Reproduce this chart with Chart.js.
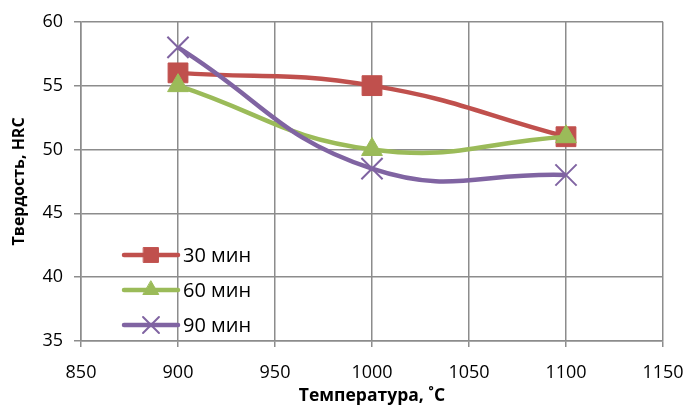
<!DOCTYPE html>
<html>
<head>
<meta charset="utf-8">
<script src="https://cdn.jsdelivr.net/npm/chart.js@4"></script>
<style>
  html, body { margin: 0; padding: 0; background: #fff; }
  #wrap { width: 688px; height: 408px; }
</style>
</head>
<body>
<div id="wrap"><canvas id="hardnessChart" width="688" height="408"></canvas></div>
<script>
// температура отпуска, °C
const temps = [900, 1000, 1100];
const seriesNames = ['30 мин', '60 мин', '90 мин'];
const hrc30 = [56, 55, 51];
const hrc60 = [55, 50, 51];
const hrc90 = [58, 48.5, 48];
const xTicks = [850, 900, 950, 1000, 1050, 1100, 1150];
const yTicks = [35, 40, 45, 50, 55, 60];

const FONT = '"Open Sans", "Noto Sans", sans-serif';

function toPoints(values) {
    return temps.map((t, i) => ({ x: t, y: values[i] }));
}

// легенда внутри области графика, как в Excel
const insideLegend = {
    id: 'insideLegend',
    afterDatasetsDraw(chart) {
        const ctx = chart.ctx;
        const x0 = 124, x1 = 178, rowY = [255, 290, 325];
        chart.data.datasets.forEach((ds, i) => {
            const y = rowY[i];
            ctx.save();
            ctx.strokeStyle = ds.borderColor;
            ctx.lineWidth = ds.borderWidth;
            ctx.lineCap = 'round';
            ctx.beginPath();
            ctx.moveTo(x0, y);
            ctx.lineTo(x1, y);
            ctx.stroke();
            ctx.fillStyle = ds.pointBackgroundColor;
            ctx.strokeStyle = ds.pointBorderColor;
            ctx.lineWidth = ds.pointBorderWidth;
            Chart.helpers.drawPoint(ctx, {
                pointStyle: ds.pointStyle,
                radius: ds.pointRadius * 0.75,
                borderWidth: ds.pointBorderWidth
            }, (x0 + x1) / 2, y);
            ctx.fillStyle = '#000';
            ctx.font = '20px ' + FONT;
            ctx.textBaseline = 'middle';
            ctx.fillText(ds.label, 183, y + 1);
            ctx.restore();
        });
    }
};

function makeSet(label, values, color, style, radius, order) {
    return {
        label: label,
        data: toPoints(values),
        showLine: true,
        order: order, // later series on top, as in Excel
        borderColor: color,
        backgroundColor: color,
        borderWidth: 4.5,
        pointStyle: style,
        pointRadius: radius,
        pointHoverRadius: radius,
        pointBackgroundColor: color,
        pointBorderColor: color,
        pointBorderWidth: style === 'crossRot' ? 2 : 1,
        tension: 0.45
    };
}

const ctx = document.getElementById('hardnessChart').getContext('2d');
const chart = new Chart(ctx, {
    type: 'scatter',
    data: {
        datasets: [
            makeSet(seriesNames[0], hrc30, '#C0504D', 'rect', 14, 3),
            makeSet(seriesNames[1], hrc60, '#9BBB59', 'triangle', 12, 2),
            makeSet(seriesNames[2], hrc90, '#8064A2', 'crossRot', 15, 1)
        ]
    },
    plugins: [insideLegend],
    options: {
        responsive: false,
        animation: false,
        devicePixelRatio: 1,
        layout: { padding: { top: 21, right: 25, left: 0, bottom: 0 } },
        plugins: {
            legend: { display: false },
            tooltip: { enabled: false }
        },
        scales: {
            x: {
                type: 'linear',
                min: 850,
                max: 1150,
                afterBuildTicks: axis => { axis.ticks = xTicks.map(v => ({ value: v })); },
                afterFit: axis => {
                    axis.height = 67;
                    axis.paddingLeft = 0;
                    axis.paddingRight = 0;
                },
                grid: { color: '#8c8c8c', lineWidth: 1.5, tickLength: 6 },
                border: { color: '#8c8c8c', width: 1.5 },
                ticks: {
                    color: '#000',
                    font: { family: FONT, size: 18 },
                    padding: 15,
                    maxRotation: 0,
                    callback: v => String(v)
                },
                title: {
                    display: true,
                    text: 'Температура, ˚С',
                    color: '#000',
                    font: { family: FONT, size: 17.5, weight: 'bold' },
                    padding: { top: 0, bottom: 1 }
                }
            },
            y: {
                min: 35,
                max: 60,
                afterBuildTicks: axis => { axis.ticks = yTicks.map(v => ({ value: v })); },
                afterFit: axis => { axis.width = 81; },
                grid: { color: '#8c8c8c', lineWidth: 1.5, tickLength: 7 },
                border: { color: '#8c8c8c', width: 1.5 },
                ticks: {
                    color: '#000',
                    font: { family: FONT, size: 18 },
                    padding: 11,
                    callback: v => String(v)
                },
                title: {
                    display: true,
                    text: 'Твердость, HRC',
                    color: '#000',
                    font: { family: FONT, size: 16, weight: 'bold' },
                    padding: { top: 10, bottom: 0 }
                }
            }
        }
    }
});
</script>
</body>
</html>
